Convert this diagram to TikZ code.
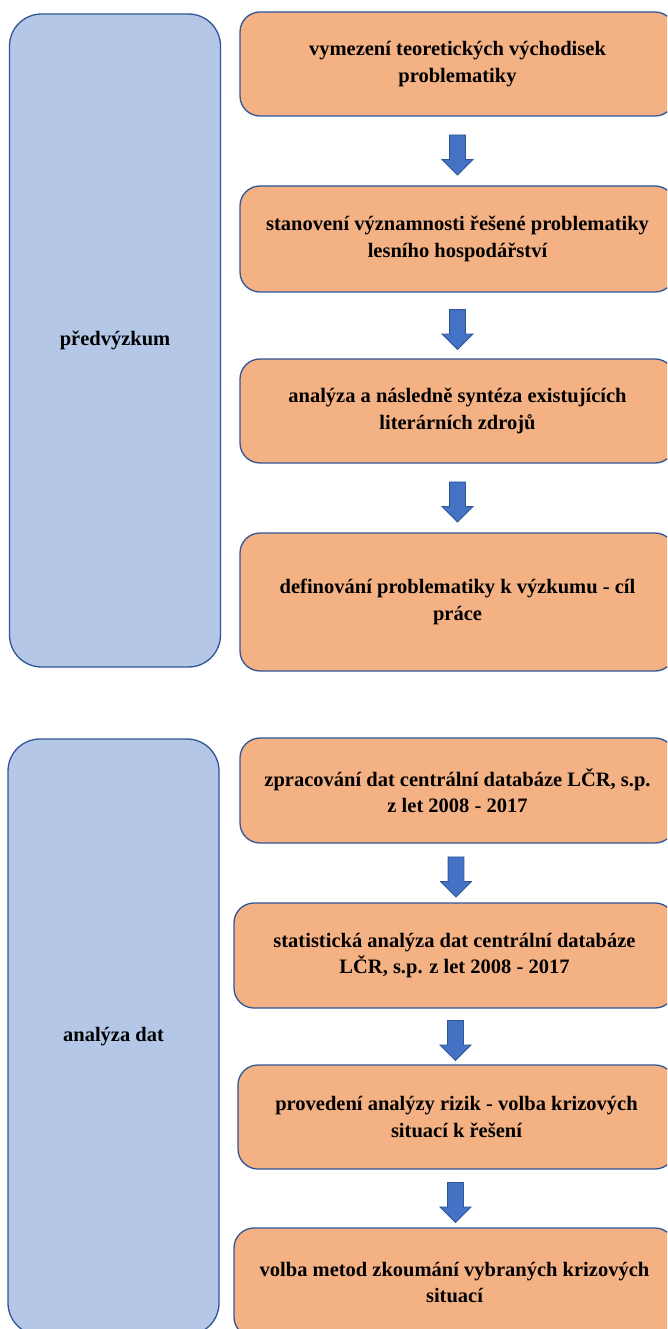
\documentclass[tikz,border=0pt]{standalone}
\usepackage{fontspec}
\setmainfont{Liberation Serif}
\usetikzlibrary{calc,shapes.arrows}
\definecolor{boxorange}{HTML}{F4B183}
\definecolor{boxblue}{HTML}{B4C7E7}
\definecolor{edgeblue}{HTML}{2F5597}
\definecolor{arrowblue}{HTML}{4472C4}

\begin{document}
\begin{tikzpicture}[x=1pt,y=-1pt,
    stepbox/.style={draw=edgeblue,line width=1.3pt,fill=boxorange,rounded corners=20pt,
        align=center,font=\fontsize{20.5}{26.5}\selectfont\bfseries,inner sep=0pt},
    phasebox/.style={draw=edgeblue,line width=1.3pt,fill=boxblue,rounded corners=32pt,
        align=center,font=\fontsize{20.5}{26.5}\selectfont\bfseries,inner sep=0pt,minimum width=211pt},
    blockarrow/.style={single arrow,draw=edgeblue,fill=arrowblue,line width=0.8pt,
        shape border rotate=270,minimum height=40pt,inner sep=7.5pt,
        single arrow head extend=7.5pt}]
    \useasboundingbox (0,0) rectangle (667,1329);
    \clip (0,0) rectangle (667,1329);
    % predvyzkum
    \node[phasebox,minimum height=653pt] (p1) at (115,340.5) {předvýzkum};
    \node[stepbox,minimum width=435pt,minimum height=104pt] (b1) at (457.5,64) {vymezení teoretických východisek\\problematiky};
    \node[stepbox,minimum width=435pt,minimum height=106pt] (b2) at (457.5,239) {stanovení významnosti řešené problematiky\\lesního hospodářství};
    \node[stepbox,minimum width=435pt,minimum height=104pt] (b3) at (457.5,411) {analýza a následně syntéza existujících\\literárních zdrojů};
    \node[stepbox,minimum width=435pt,minimum height=138pt] (b4) at (457.5,602) {definování problematiky k výzkumu - cíl\\práce};
    % analyza dat
    \node[phasebox,minimum height=596pt] (p2) at (113.5,1037) {analýza dat};
    \node[stepbox,minimum width=435pt,minimum height=105pt] (b5) at (457.5,790.5) {zpracování dat centrální databáze LČR, s.p.\\z let 2008 - 2017};
    \node[stepbox,minimum width=441pt,minimum height=105pt] (b6) at (454.5,955.5) {statistická analýza dat centrální databáze\\LČR, s.p. z let 2008 - 2017};
    \node[stepbox,minimum width=437pt,minimum height=104pt] (b7) at (456.5,1117) {provedení analýzy rizik - volba krizových\\situací k řešení};
    \node[stepbox,minimum width=441pt,minimum height=109pt] (b8) at (454.5,1282.5) {volba metod zkoumání vybraných krizových\\situací};
    \foreach \a/\b in {b1/b2,b2/b3,b3/b4,b5/b6,b6/b7,b7/b8}
        \node[blockarrow] at ($(\a.south)!0.5!(\b.north)$) {};
\end{tikzpicture}
\end{document}
